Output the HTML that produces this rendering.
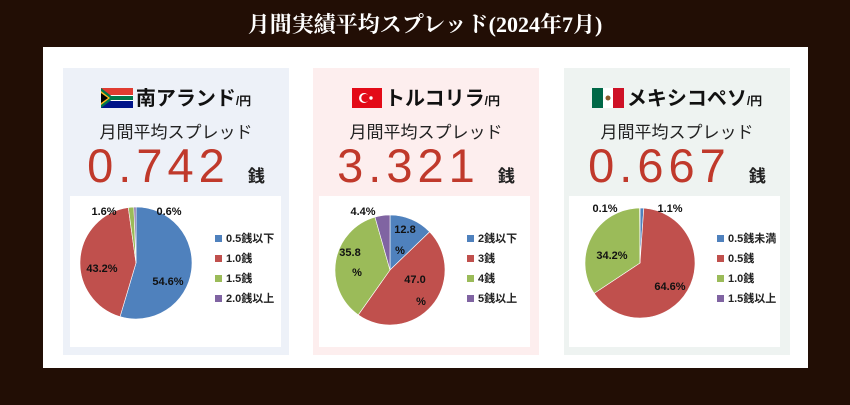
<!DOCTYPE html>
<html><head><meta charset="utf-8">
<style>
body{margin:0;width:850px;height:405px;background:#220e05;font-family:"Liberation Sans","Noto Sans CJK JP",sans-serif;position:relative;overflow:hidden}
.title{position:absolute;left:0;width:850px;top:8px;text-align:center;color:#fff;font-family:"Liberation Serif","Noto Serif CJK SC",serif;font-size:22px;font-weight:bold}
.board{position:absolute;left:43px;top:47px;width:765px;height:321px;background:#fff}
.panel{position:absolute;top:21px;width:226px;height:287px}
.head{position:absolute;top:14px;left:0;width:100%;text-align:center;font-size:20px;font-weight:bold;color:#111}
.head small{font-size:12px}
.sub{position:absolute;top:50px;width:100%;text-align:center;font-size:17px;color:#222}
.big{position:absolute;top:70px;width:100%;text-align:center;font-size:47px;color:#c0392b;letter-spacing:5px}
.big span{font-size:17px;color:#222;font-weight:bold;letter-spacing:0}
svg{position:absolute;left:0;top:0}
</style></head><body>
<div class="title">月間実績平均スプレッド(2024年7月)</div>
<div class="board">
 <div class="panel" style="left:20px;background:#edf1f8">
  <div class="head"><svg width="32" height="20" style="position:relative;display:inline-block;vertical-align:-3px;margin-right:3px"><rect width="32" height="20" fill="#fff"/><rect width="32" height="7" fill="#e03c31"/><rect y="13" width="32" height="7" fill="#001489"/><rect y="8" width="32" height="4" fill="#007749"/><polygon points="0,0 13,10 0,20" fill="#007749"/><polygon points="0,3 9,10 0,17" fill="#ffb81c"/><polygon points="0,5 7,10 0,15" fill="#000"/></svg>南アランド<small>/円</small></div>
  <div class="sub">月間平均スプレッド</div>
  <div class="big">0.742 <span>銭</span></div>
 </div>
 <div class="panel" style="left:270px;background:#fdeeee">
  <div class="head"><svg width="30" height="20" style="position:relative;display:inline-block;vertical-align:-3px;margin-right:3px"><rect width="30" height="20" fill="#e30a17"/><circle cx="12" cy="10" r="5" fill="#fff"/><circle cx="13.3" cy="10" r="4" fill="#e30a17"/><circle cx="19" cy="10" r="1.7" fill="#fff"/></svg>トルコリラ<small>/円</small></div>
  <div class="sub">月間平均スプレッド</div>
  <div class="big">3.321 <span>銭</span></div>
 </div>
 <div class="panel" style="left:521px;background:#eef3f1">
  <div class="head"><svg width="32" height="20" style="position:relative;display:inline-block;vertical-align:-3px;margin-right:3px"><rect width="11" height="20" fill="#006847"/><rect x="11" width="10" height="20" fill="#fff"/><rect x="21" width="11" height="20" fill="#ce1126"/><circle cx="16" cy="10" r="2.5" fill="#8b5a2b"/></svg>メキシコペソ<small>/円</small></div>
  <div class="sub">月間平均スプレッド</div>
  <div class="big">0.667 <span>銭</span></div>
 </div>
</div>
<svg id="charts" width="850" height="405"></svg>
<script>
const colors=["#4f81bd","#c0504d","#9bbb59","#8064a2"];
const zarCats=["0.5銭以下","1.0銭","1.5銭","2.0銭以上"];
const zarVals=[54.6,43.2,1.6,0.6];
const tryCats=["2銭以下","3銭","4銭","5銭以上"];
const tryVals=[12.8,47.0,35.8,4.4];
const mxnCats=["0.5銭未満","0.5銭","1.0銭","1.5銭以上"];
const mxnVals=[1.1,64.6,34.2,0.1];
const NS="http://www.w3.org/2000/svg";
const svg=document.getElementById('charts');
function mk(tag,attrs){const e=document.createElementNS(NS,tag);for(const k in attrs)e.setAttribute(k,attrs[k]);svg.appendChild(e);return e;}
function pie(name,box,cx,cy,r,cats,vals,labelPos,legX,legY){
 const bg=mk('rect',{x:box[0],y:box[1],width:box[2],height:box[3],fill:'#fff'});
 
 
 const tot=vals.reduce((a,b)=>a+b,0);let a0=0;
 vals.forEach((v,i)=>{
  const a1=a0+v/tot*2*Math.PI;
  const x0=cx+r*Math.sin(a0),y0=cy-r*Math.cos(a0),x1=cx+r*Math.sin(a1),y1=cy-r*Math.cos(a1);
  const p=mk('path',{d:`M${cx},${cy}L${x0},${y0}A${r},${r} 0 ${a1-a0>Math.PI?1:0} 1 ${x1},${y1}Z`,fill:colors[i],stroke:'#fff','stroke-width':0.6});
  
  
  a0=a1;
 });
 labelPos.forEach((lp,i)=>{
  const t=mk('text',{x:lp[0],y:lp[1],'font-size':11,'font-weight':'bold',fill:'#111','text-anchor':'middle'});
  t.textContent=lp[2]!==undefined?lp[2]:vals[i].toFixed(1)+'%';
  
  
 });
 cats.forEach((c,i)=>{
  const s=mk('rect',{x:legX,y:legY+i*20-7,width:7,height:7,fill:colors[i]});
  
  
  const t=mk('text',{x:legX+11,y:legY+i*20,'font-size':11,'font-weight':'bold',fill:'#222'});
  t.textContent=c;
  
  
 });
}
pie('zar',[70,196,211,151],136,263,56,zarCats,zarVals,[[168,285],[102,272],[104,215],[169,215]],215,242);
pie('try',[319,196,211,151],390,270,55,tryCats,tryVals,[[405,233,"12.8"],[415,283,"47.0"],[350,256,"35.8"],[363,215]],467,242);
pie('mxn',[569,196,211,151],640,263,55,mxnCats,mxnVals,[[670,212],[670,290],[612,259],[605,212]],717,242);
[[400,254],[421,305],[357,276]].forEach((p,i)=>{const t=mk('text',{x:p[0],y:p[1],'font-size':11,'font-weight':'bold',fill:'#111','text-anchor':'middle'});t.textContent='%';

});
</script>
</body></html>
